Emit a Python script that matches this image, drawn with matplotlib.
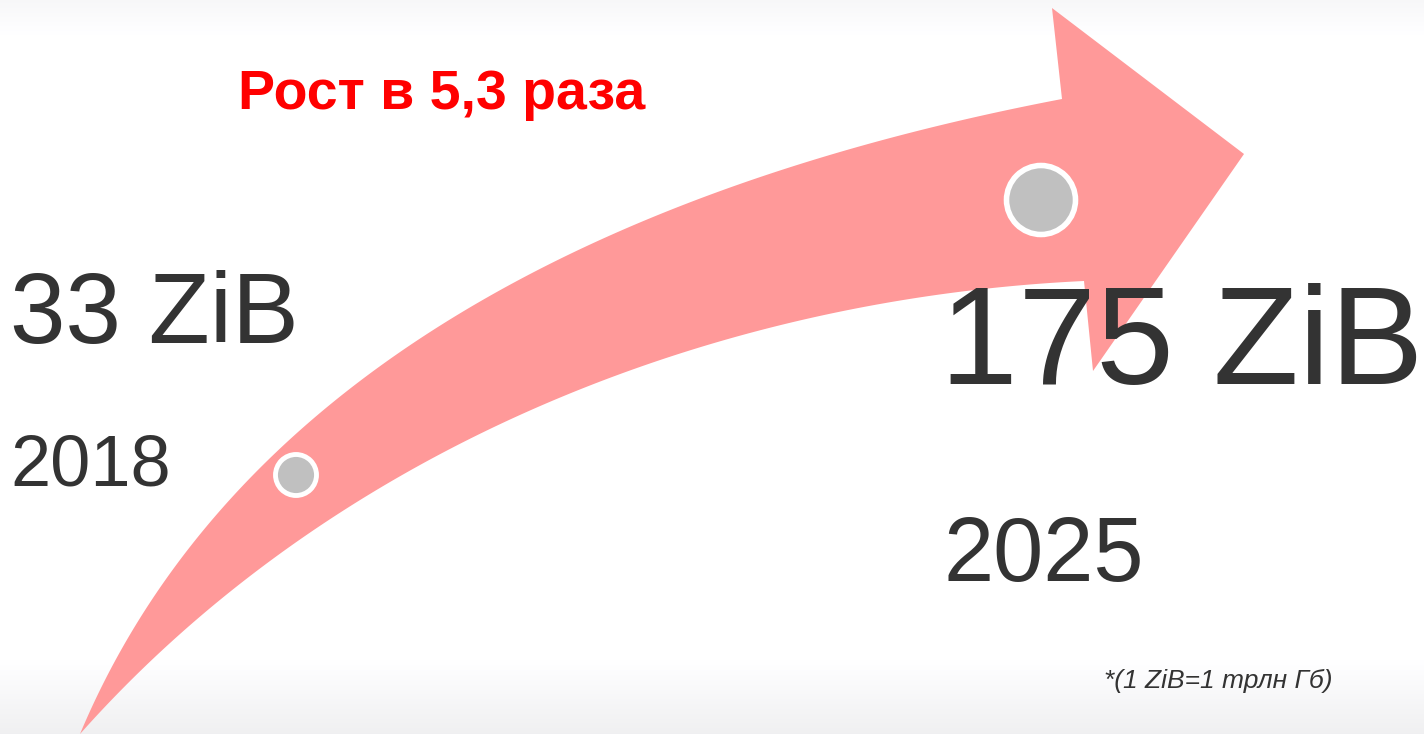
import numpy as np
import matplotlib
matplotlib.use("Agg")
import matplotlib.pyplot as plt
from matplotlib.patches import Polygon, Circle

# данные инфографики
years = ["2018", "2025"]
volumes = [33, 175]          # ZiB
unit = "ZiB"
growth_title = "Рост в 5,3 раза"
footnote = "*(1 ZiB=1 трлн Гб)"

W, H = 1424, 734
font = ["Liberation Sans", "DejaVu Sans"]

# контур стрелки (пиксели картинки, y вниз)
upper_pts = [(80, 734), (127, 647), (160, 587), (193, 540), (227, 507), (260, 473),
             (300, 430), (350, 387), (400, 350), (450, 315), (500, 287), (600, 239),
             (700, 200), (800, 165), (900, 140), (1000, 117), (1062, 99)]
lower_pts = [(80, 734), (127, 680), (193, 617), (260, 567), (327, 527), (393, 488),
             (467, 440), (520, 410), (600, 377), (700, 347), (800, 322), (930, 298),
             (1027, 287), (1084, 281)]
head_pts = [(1062, 99), (1052, 8), (1244, 154), (1093, 371), (1084, 281)]


def bezier_fit(pts, n=200):
    # кубическая кривая Безье по точкам, концы закреплены
    p = np.array(pts, dtype=float)
    d = np.r_[0, np.cumsum(np.hypot(*np.diff(p, axis=0).T))]
    t = d / d[-1]
    b0, b1, b2, b3 = (1 - t) ** 3, 3 * t * (1 - t) ** 2, 3 * t ** 2 * (1 - t), t ** 3
    rhs = p - np.outer(b0, p[0]) - np.outer(b3, p[-1])
    c, *_ = np.linalg.lstsq(np.c_[b1, b2], rhs, rcond=None)
    P = np.array([p[0], c[0], c[1], p[-1]])
    s = np.linspace(0, 1, n)[:, None]
    return ((1 - s) ** 3 * P[0] + 3 * s * (1 - s) ** 2 * P[1]
            + 3 * s ** 2 * (1 - s) * P[2] + s ** 3 * P[3])


fig = plt.figure(figsize=(W / 100, H / 100), dpi=100)
ax = fig.add_axes([0, 0, 1, 1])
ax.set_xlim(0, W)
ax.set_ylim(H, 0)
ax.axis("off")

# фон: лёгкий серый градиент сверху и снизу
yy = np.arange(H)
g = np.ones(H)
g = np.minimum(g, 0.97 + 0.03 * np.clip(yy / 35, 0, 1))
g = np.minimum(g, 1 - 0.06 * np.clip((yy - 660) / (H - 660), 0, 1))
bg = np.repeat(g[:, None], 2, axis=1)
ax.imshow(np.dstack([bg, bg, np.minimum(bg + 0.005, 1)]), extent=[0, W, H, 0],
          aspect="auto", zorder=0, interpolation="bilinear")

# стрелка
up = bezier_fit(upper_pts)
lo = bezier_fit(lower_pts)
outline = np.vstack([up, np.array(head_pts[1:-1], float), lo[::-1]])
ax.add_patch(Polygon(outline, closed=True, facecolor="#ff9999", edgecolor="none", zorder=1))

# точки на стрелке
ax.add_patch(Circle((296, 475), 20.5, facecolor="#c0c0c0", edgecolor="white", lw=3.5, zorder=2))
ax.add_patch(Circle((1041, 200), 34.5, facecolor="#c0c0c0", edgecolor="white", lw=4, zorder=2))

dark = "#333333"
ax.text(10, 343, f"{volumes[0]} {unit}", fontsize=72, color=dark, family=font,
        va="baseline", ha="left", zorder=3)
ax.text(10, 486, years[0], fontsize=52, color=dark, family=font,
        va="baseline", ha="left", zorder=3)
ax.text(940, 384, f"{volumes[1]} {unit}", fontsize=101, color=dark, family=font,
        va="baseline", ha="left", zorder=3)
ax.text(943, 581, years[1], fontsize=65, color=dark, family=font,
        va="baseline", ha="left", zorder=3)
ax.text(238, 109, growth_title, fontsize=40, color="#ff0000", family=font,
        fontweight="bold", va="baseline", ha="left", zorder=3)
ax.text(1104, 688, footnote, fontsize=19, color=dark, family=font,
        style="italic", va="baseline", ha="left", zorder=3)

fig.savefig("out.png", dpi=100)
